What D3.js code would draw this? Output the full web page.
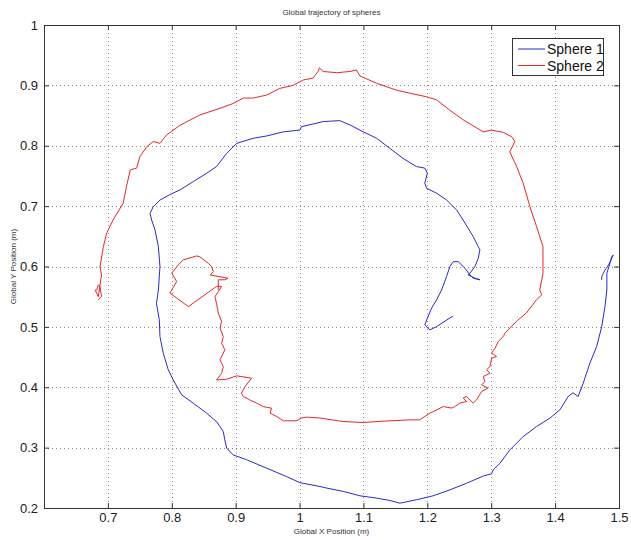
<!DOCTYPE html>
<html>
<head>
<meta charset="utf-8">
<script src="https://cdn.jsdelivr.net/npm/d3@7"></script>
<style>
  html, body { margin: 0; padding: 0; background: #fff; }
  svg { display: block; }
  text { font-family: Arial, "Liberation Sans", Helvetica, sans-serif; }
</style>
</head>
<body>
<svg id="chart" width="631" height="540"></svg>
<script>
// Sphere trajectories in the global frame (x, y in metres)
const sphere1X = [1.2405,1.2145,1.204,1.196,1.199,1.2067,1.2145,1.2223,1.230,1.2354,1.2405,1.2484,1.259,1.2667,1.2718,1.2823,1.2745,1.264,1.2667,1.2745,1.2797,1.2823,1.2797,1.2718,1.256,1.2458,1.230,1.2145,1.199,1.196,1.200,1.196,1.183,1.162,1.141,1.1206,1.0997,1.079,1.063,1.037,1.021,1.003,1.0006,0.9745,0.9485,0.9275,0.9016,0.886,0.870,0.8546,0.8336,0.813,0.797,0.7815,0.771,0.766,0.7685,0.7737,0.779,0.7815,0.779,0.776,0.7805,0.7815,0.7867,0.7945,0.8023,0.8155,0.8336,0.8546,0.870,0.8806,0.883,0.886,0.896,0.917,0.9485,0.9797,1.0006,1.032,1.0424,1.0684,1.0945,1.1206,1.1415,1.157,1.183,1.209,1.2354,1.2615,1.2875,1.3006,1.303,1.3136,1.329,1.350,1.371,1.392,1.4075,1.4205,1.428,1.436,1.444,1.4545,1.465,1.473,1.478,1.481,1.481,1.486,1.4885,1.491,1.4837,1.478,1.4756,1.473,1.473];
const sphere1Y = [0.5182,0.5005,0.495,0.5033,0.5116,0.531,0.545,0.561,0.5833,0.600,0.608,0.608,0.597,0.586,0.5806,0.578,0.5806,0.586,0.589,0.600,0.6137,0.6275,0.633,0.6495,0.677,0.6937,0.7103,0.7214,0.7296,0.738,0.7545,0.763,0.7655,0.779,0.796,0.8124,0.823,0.8344,0.8416,0.840,0.836,0.8316,0.826,0.823,0.8162,0.8124,0.804,0.7876,0.7655,0.7545,0.7406,0.727,0.719,0.710,0.699,0.688,0.677,0.6606,0.633,0.600,0.561,0.539,0.5116,0.484,0.4565,0.429,0.412,0.3874,0.3737,0.357,0.3432,0.3267,0.313,0.299,0.288,0.280,0.266,0.252,0.242,0.2356,0.233,0.2275,0.2202,0.2164,0.2124,0.208,0.2136,0.2202,0.2301,0.241,0.253,0.2566,0.263,0.274,0.296,0.3184,0.335,0.349,0.3626,0.3847,0.391,0.3847,0.4068,0.44,0.4674,0.5005,0.5336,0.561,0.589,0.6055,0.6164,0.619,0.6026,0.594,0.589,0.583,0.578];

const sphere2X = [0.685,0.690,0.6876,0.685,0.6825,0.680,0.685,0.690,0.6876,0.693,0.698,0.708,0.724,0.729,0.735,0.745,0.750,0.761,0.771,0.7815,0.792,0.813,0.844,0.8755,0.896,0.912,0.9275,0.9485,0.969,0.990,1.006,1.021,1.029,1.031,1.037,1.058,1.079,1.089,1.0945,1.1206,1.152,1.173,1.199,1.2145,1.235,1.256,1.2875,1.3006,1.319,1.332,1.337,1.329,1.340,1.350,1.3606,1.371,1.381,1.381,1.381,1.376,1.379,1.371,1.355,1.342,1.3214,1.319,1.311,1.306,1.3006,1.3084,1.3006,1.298,1.2927,1.298,1.2875,1.290,1.285,1.295,1.285,1.277,1.2718,1.2667,1.2615,1.256,1.2615,1.251,1.243,1.238,1.225,1.204,1.188,1.173,1.121,1.0997,1.0684,1.0606,1.032,1.011,1.003,0.9955,0.9745,0.9643,0.954,0.956,0.943,0.933,0.922,0.912,0.909,0.9145,0.925,0.9016,0.886,0.870,0.878,0.8806,0.8755,0.883,0.878,0.8806,0.8755,0.878,0.8728,0.870,0.8676,0.8728,0.878,0.870,0.826,0.797,0.8077,0.800,0.810,0.818,0.839,0.844,0.857,0.862,0.865,0.860,0.8755,0.888,0.883,0.8728,0.8728];
const sphere2Y = [0.545,0.550,0.567,0.5695,0.561,0.561,0.550,0.586,0.5993,0.633,0.655,0.677,0.705,0.732,0.760,0.763,0.782,0.7985,0.807,0.804,0.818,0.834,0.851,0.862,0.870,0.879,0.879,0.884,0.895,0.900,0.909,0.912,0.923,0.929,0.923,0.921,0.923,0.9255,0.9156,0.9035,0.892,0.887,0.881,0.876,0.859,0.843,0.823,0.826,0.822,0.815,0.807,0.790,0.765,0.738,0.699,0.666,0.633,0.600,0.589,0.561,0.553,0.545,0.523,0.5116,0.4896,0.484,0.4757,0.4647,0.4565,0.451,0.448,0.4343,0.429,0.4233,0.4178,0.4095,0.404,0.3985,0.393,0.379,0.3737,0.379,0.3847,0.382,0.3765,0.3737,0.368,0.3655,0.368,0.357,0.346,0.346,0.3432,0.3416,0.3432,0.3444,0.349,0.3505,0.349,0.3444,0.3444,0.3515,0.357,0.3655,0.368,0.3737,0.379,0.3847,0.390,0.401,0.415,0.4189,0.4134,0.412,0.423,0.434,0.4454,0.462,0.473,0.484,0.498,0.509,0.523,0.539,0.550,0.5585,0.567,0.567,0.5336,0.556,0.575,0.589,0.6026,0.611,0.6175,0.616,0.6055,0.600,0.5916,0.586,0.583,0.5806,0.578,0.578,0.5613];

const xTicks = [0.7, 0.8, 0.9, 1.0, 1.1, 1.2, 1.3, 1.4, 1.5];
const yTicks = [0.2, 0.3, 0.4, 0.5, 0.6, 0.7, 0.8, 0.9, 1.0];
const seriesNames = ["Sphere 1", "Sphere 2"];
const seriesColors = ["#2a2ad0", "#e02a2a"];

const svg = d3.select("#chart");
const m = { left: 44, right: 619, top: 25, bottom: 508 };

const x = d3.scaleLinear().domain([0.6, 1.5]).range([m.left, m.right]);
const y = d3.scaleLinear().domain([0.2, 1.0]).range([m.bottom, m.top]);

// dotted grid
const grid = svg.append("g").attr("stroke", "#8a8a8a").attr("stroke-width", 1)
  .attr("stroke-dasharray", "1,3").attr("shape-rendering", "crispEdges");
grid.selectAll("line.gx").data(xTicks.filter(t => t < 1.5)).enter().append("line")
  .attr("x1", d => Math.round(x(d)) + 0.5).attr("x2", d => Math.round(x(d)) + 0.5)
  .attr("y1", m.top).attr("y2", m.bottom);
grid.selectAll("line.gy").data(yTicks.filter(t => t > 0.2 && t < 1.0)).enter().append("line")
  .attr("y1", d => Math.round(y(d)) + 0.5).attr("y2", d => Math.round(y(d)) + 0.5)
  .attr("x1", m.left).attr("x2", m.right);

// trajectories
const line = d3.line().x(d => x(d[0])).y(d => y(d[1]));
const series = [d3.zip(sphere1X, sphere1Y), d3.zip(sphere2X, sphere2Y)];
svg.append("g").selectAll("path").data(series).enter().append("path")
  .attr("d", line).attr("fill", "none")
  .attr("stroke", (d, i) => seriesColors[i]).attr("stroke-width", 1)
  .attr("stroke-linejoin", "round");

// axes with inward ticks
const tickFmt = d => d === 1 ? "1" : d3.format(".1f")(d);
const xAxis = svg.append("g").attr("transform", `translate(0,${m.bottom})`)
  .call(d3.axisBottom(x).tickValues(xTicks).tickFormat(tickFmt).tickSizeInner(-5).tickSizeOuter(0).tickPadding(5));
const yAxis = svg.append("g").attr("transform", `translate(${m.left},0)`)
  .call(d3.axisLeft(y).tickValues(yTicks).tickFormat(tickFmt).tickSizeInner(-5).tickSizeOuter(0).tickPadding(6));
[xAxis, yAxis].forEach(a => {
  a.select(".domain").remove();
  a.selectAll("line").attr("stroke", "#333");
  a.selectAll("text").attr("font-size", 13).attr("fill", "#222");
});
// mirrored ticks on top and right
svg.append("g").attr("transform", `translate(0,${m.top})`)
  .call(d3.axisTop(x).tickValues(xTicks).tickFormat("").tickSizeInner(-5).tickSizeOuter(0))
  .call(g => { g.select(".domain").remove(); g.selectAll("line").attr("stroke", "#333"); });
svg.append("g").attr("transform", `translate(${m.right},0)`)
  .call(d3.axisRight(y).tickValues(yTicks).tickFormat("").tickSizeInner(-5).tickSizeOuter(0))
  .call(g => { g.select(".domain").remove(); g.selectAll("line").attr("stroke", "#333"); });

// frame
svg.append("rect").attr("x", m.left + 0.5).attr("y", m.top + 0.5)
  .attr("width", m.right - m.left).attr("height", m.bottom - m.top)
  .attr("fill", "none").attr("stroke", "#333").attr("shape-rendering", "crispEdges");

// titles
svg.append("text").attr("x", (m.left + m.right) / 2).attr("y", 15)
  .attr("text-anchor", "middle").attr("font-size", 8).attr("fill", "#333")
  .text("Global trajectory of spheres");
svg.append("text").attr("x", (m.left + m.right) / 2).attr("y", 534)
  .attr("text-anchor", "middle").attr("font-size", 8).attr("fill", "#333")
  .text("Global X Position (m)");
svg.append("text").attr("transform", `translate(16,${(m.top + m.bottom) / 2}) rotate(-90)`)
  .attr("text-anchor", "middle").attr("font-size", 8).attr("fill", "#333")
  .text("Global Y Position (m)");

// legend
const lg = svg.append("g").attr("transform", "translate(512,38)");
lg.append("rect").attr("x", 0.5).attr("y", 0.5).attr("width", 91).attr("height", 37)
  .attr("fill", "#fff").attr("stroke", "#333").attr("shape-rendering", "crispEdges");
seriesNames.forEach((name, i) => {
  const yy = 11 + i * 16.5;
  lg.append("line").attr("x1", 6).attr("x2", 33).attr("y1", yy).attr("y2", yy)
    .attr("stroke", seriesColors[i]).attr("stroke-width", 1);
  lg.append("text").attr("x", 35).attr("y", yy + 5).attr("font-size", 14).attr("fill", "#111")
    .text(name);
});
</script>
</body>
</html>
